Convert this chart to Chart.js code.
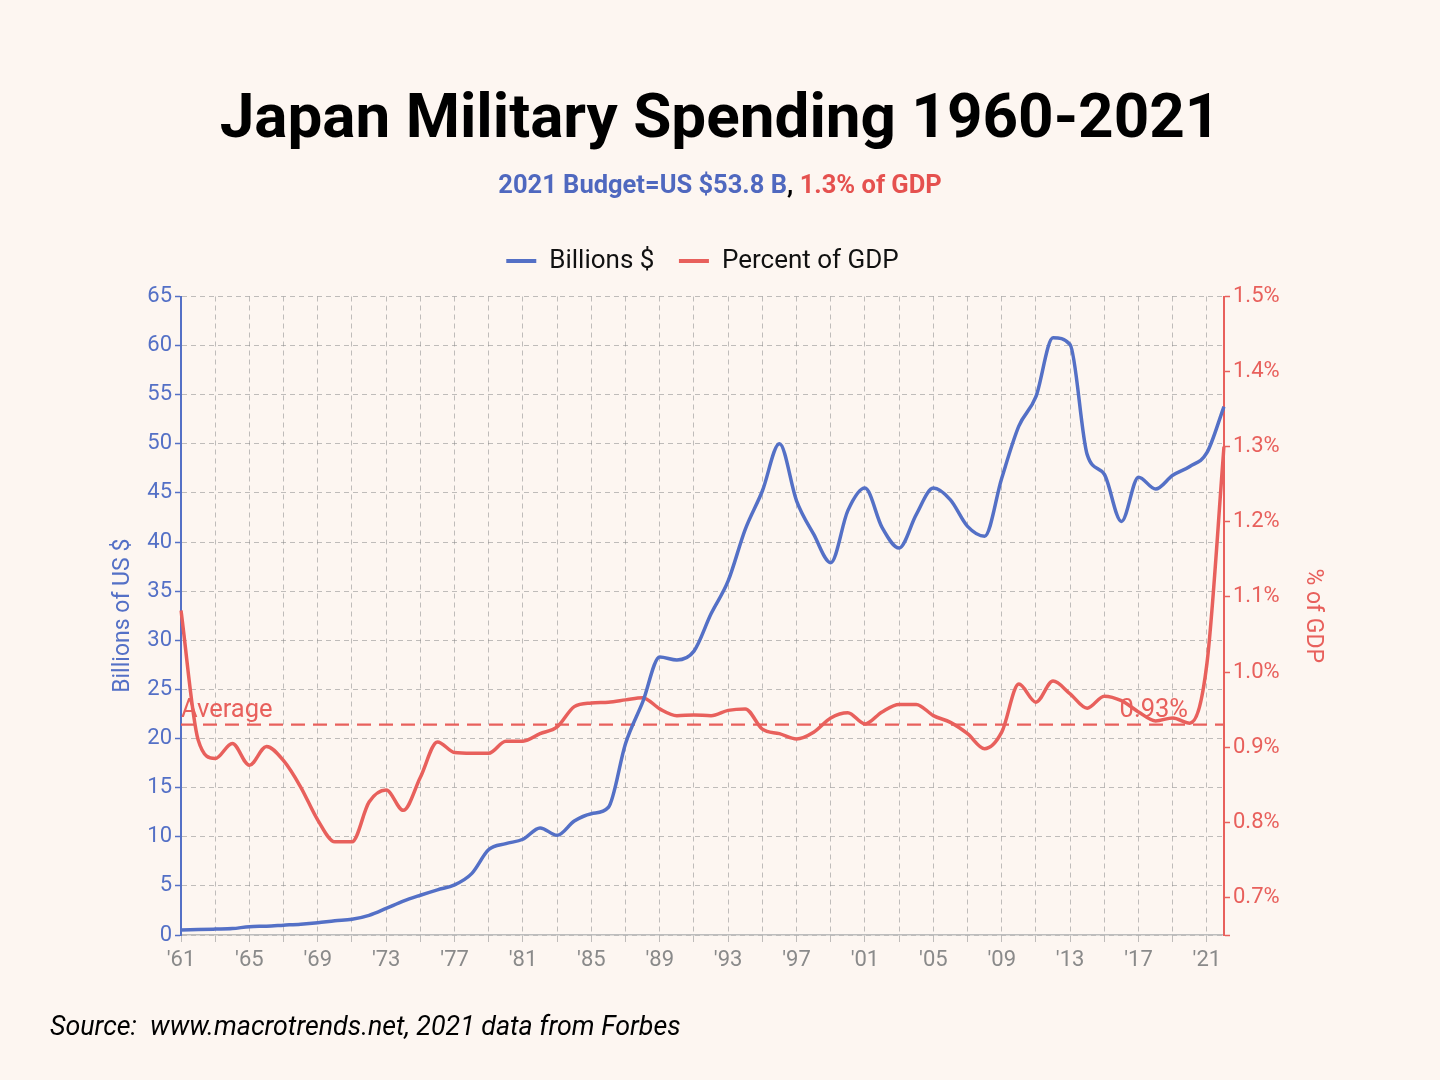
<!DOCTYPE html>
<html>
<head>
<meta charset="utf-8">
<script src="https://cdn.jsdelivr.net/npm/chart.js@4/dist/chart.umd.min.js"></script>
<style>
  html, body { margin: 0; padding: 0; background: #fdf6f1; }
  #wrap { position: relative; width: 1440px; height: 1080px; overflow: hidden; background: #fdf6f1; }
  #c { position: absolute; left: 0; top: 0; }
  #title { position: absolute; left: 0; width: 1440px; top: 79px; text-align: center; font: bold 62px Roboto, sans-serif; color: #000; line-height: normal; white-space: nowrap; }
  #sub { position: absolute; left: 0; width: 1440px; top: 169px; text-align: center; font: bold 25.5px Roboto, sans-serif; line-height: normal; white-space: nowrap; }
  #src { position: absolute; left: 50px; top: 1010px; font: italic 26.8px Roboto, sans-serif; color: #000; line-height: normal; white-space: nowrap; }
  .blue { color: #4f68bf; }
  .red { color: #e5514f; }
</style>
</head>
<body>
<div id="wrap">
  <canvas id="c" width="1440" height="1080"></canvas>
  <div id="title">Japan Military Spending 1960-2021</div>
  <div id="sub"><span class="blue">2021 Budget=US $53.8 B</span>, <span class="red">1.3% of GDP</span></div>
  <div id="src">Source:&nbsp; www.macrotrends.net, 2021 data from Forbes</div>
</div>
<script>
// ---- data ----
const yearLabels = ["'61","'62","'63","'64","'65","'66","'67","'68","'69","'70",
  "'71","'72","'73","'74","'75","'76","'77","'78","'79","'80",
  "'81","'82","'83","'84","'85","'86","'87","'88","'89","'90",
  "'91","'92","'93","'94","'95","'96","'97","'98","'99","'00",
  "'01","'02","'03","'04","'05","'06","'07","'08","'09","'10",
  "'11","'12","'13","'14","'15","'16","'17","'18","'19","'20",
  "'21","'22"];
const billions = [0.5,0.55,0.6,0.65,0.85,0.9,1.0,1.1,1.25,1.45,
  1.6,2.0,2.7,3.45,4.05,4.6,5.1,6.25,8.7,9.3,
  9.75,10.9,10.15,11.6,12.35,13.0,19.5,23.7,28.3,28.0,
  28.9,32.7,36.05,41.3,45.2,50.0,44.2,40.8,37.9,43.2,
  45.5,41.5,39.4,42.8,45.5,44.3,41.6,40.6,46.5,51.8,
  54.8,60.8,60.1,48.9,46.9,42.1,46.6,45.4,46.8,47.7,
  49.1,53.8];
const percentGDP = [1.082,0.91,0.885,0.905,0.876,0.901,0.882,0.847,0.803,0.774,
  0.774,0.827,0.843,0.816,0.860,0.907,0.893,0.892,0.892,0.908,
  0.908,0.918,0.927,0.954,0.959,0.960,0.963,0.966,0.951,0.942,
  0.943,0.942,0.949,0.951,0.924,0.918,0.911,0.920,0.939,0.946,
  0.931,0.947,0.957,0.957,0.942,0.933,0.918,0.898,0.920,0.984,
  0.960,0.988,0.971,0.952,0.968,0.962,0.947,0.935,0.939,0.932,
  1.011,1.30];
const averagePct = 0.93;
const averageLabel = "0.93%";
const leftTicks = { min: 0, max: 65, step: 5 };
const rightTicks = { min: 0.65, max: 1.5, step: 0.1 };

// ---- styles ----
const BLUE = '#5470c6';
const RED = '#e8605c';
const GRID = 'rgba(140,140,140,0.55)';
const FONT = 'Roboto, sans-serif';

const avgLine = yearLabels.map(() => averagePct);

const avgLabelPlugin = {
  id: 'avgLabels',
  afterDatasetsDraw(chart) {
    const ctx = chart.ctx;
    const y = chart.scales.y1.getPixelForValue(averagePct);
    const x0 = chart.scales.x.getPixelForValue(0);
    ctx.save();
    ctx.font = '25.5px ' + FONT;
    ctx.fillStyle = RED;
    ctx.textBaseline = 'alphabetic';
    ctx.textAlign = 'left';
    ctx.fillText('Average', x0, y - 8);
    ctx.textAlign = 'right';
    ctx.fillText(averageLabel, chart.chartArea.right - 36, y - 8);
    ctx.restore();
  }
};

const everyOther = (c) => (c.index % 2 === 0 ? GRID : 'rgba(0,0,0,0)');

new Chart(document.getElementById('c'), {
  type: 'line',
  data: {
    labels: yearLabels,
    datasets: [
      { label: 'Billions $', data: billions, yAxisID: 'y', borderColor: BLUE, backgroundColor: BLUE,
        borderWidth: 3.5, pointRadius: 0, cubicInterpolationMode: 'monotone', fill: false },
      { label: 'Percent of GDP', data: percentGDP, yAxisID: 'y1', borderColor: RED, backgroundColor: RED,
        borderWidth: 3.5, pointRadius: 0, cubicInterpolationMode: 'monotone', fill: false },
      { label: 'Average', data: avgLine, yAxisID: 'y1', borderColor: RED, backgroundColor: RED,
        borderWidth: 2.2, borderDash: [14, 8], pointRadius: 0, tension: 0, fill: false }
    ]
  },
  options: {
    responsive: false,
    devicePixelRatio: 1,
    animation: false,
    layout: { padding: { left: 105, right: 109, top: 223.5, bottom: 95 } },
    plugins: {
      tooltip: { enabled: false },
      title: { display: false },
      subtitle: {
        display: true, text: '', position: 'top', weight: 500,
        font: { size: 1, lineHeight: 1 }, padding: { top: 0, bottom: 11.5 }
      },
      legend: {
        display: true,
        position: 'top',
        fullSize: false,
        labels: {
          font: { family: FONT, size: 26 },
          color: '#111',
          boxWidth: 30,
          boxHeight: 4,
          padding: 24.5,
          generateLabels(chart) {
            const items = Chart.defaults.plugins.legend.labels.generateLabels(chart);
            return items.filter(i => i.datasetIndex < 2).map(i => Object.assign({}, i, { lineWidth: 0, fillStyle: i.strokeStyle, lineDash: [] }));
          }
        }
      }
    },
    scales: {
      x: {
        type: 'category',
        offset: false,
        grid: { display: true, color: everyOther, lineWidth: 1, tickLength: 7, tickColor: everyOther, tickBorderDash: [] },
        border: { display: true, color: '#bdbdbd', width: 1.5, dash: [5, 4] },
        ticks: {
          autoSkip: false, maxRotation: 0, minRotation: 0, padding: 5,
          color: '#8a8a8a', font: { family: FONT, size: 22 },
          callback(val, idx) { return idx % 4 === 0 ? yearLabels[idx] : ''; }
        },
        afterFit(scale) { scale.height = 50; }
      },
      y: {
        position: 'left',
        min: leftTicks.min, max: leftTicks.max,
        grid: { display: true, color: GRID, lineWidth: 1, tickLength: 6, tickColor: BLUE, tickWidth: 1.5, tickBorderDash: [] },
        border: { display: true, color: BLUE, width: 2, dash: [5, 4] },
        ticks: { stepSize: leftTicks.step, color: BLUE, font: { family: FONT, size: 22 }, padding: 3 },
        title: { display: true, text: 'Billions of US $', color: BLUE, font: { family: FONT, size: 23 }, padding: { top: 4, bottom: 4 } },
        afterFit(scale) { scale.width = 76; }
      },
      y1: {
        position: 'right',
        min: rightTicks.min, max: rightTicks.max,
        grid: { drawOnChartArea: false, tickLength: 6, tickColor: RED, tickWidth: 1.5, color: RED },
        border: { display: true, color: RED, width: 2 },
        ticks: {
          stepSize: rightTicks.step, color: RED, font: { family: FONT, size: 22 }, padding: 3,
          callback(v) {
            const r = Math.round(v * 10) / 10;
            return Math.abs(r - v) < 1e-6 ? r.toFixed(1) + '%' : '';
          }
        },
        title: { display: true, text: '% of GDP', color: RED, font: { family: FONT, size: 23 }, padding: { top: 4, bottom: 4 } },
        afterFit(scale) { scale.width = 107; }
      }
    }
  },
  plugins: [avgLabelPlugin]
});
</script>
</body>
</html>
